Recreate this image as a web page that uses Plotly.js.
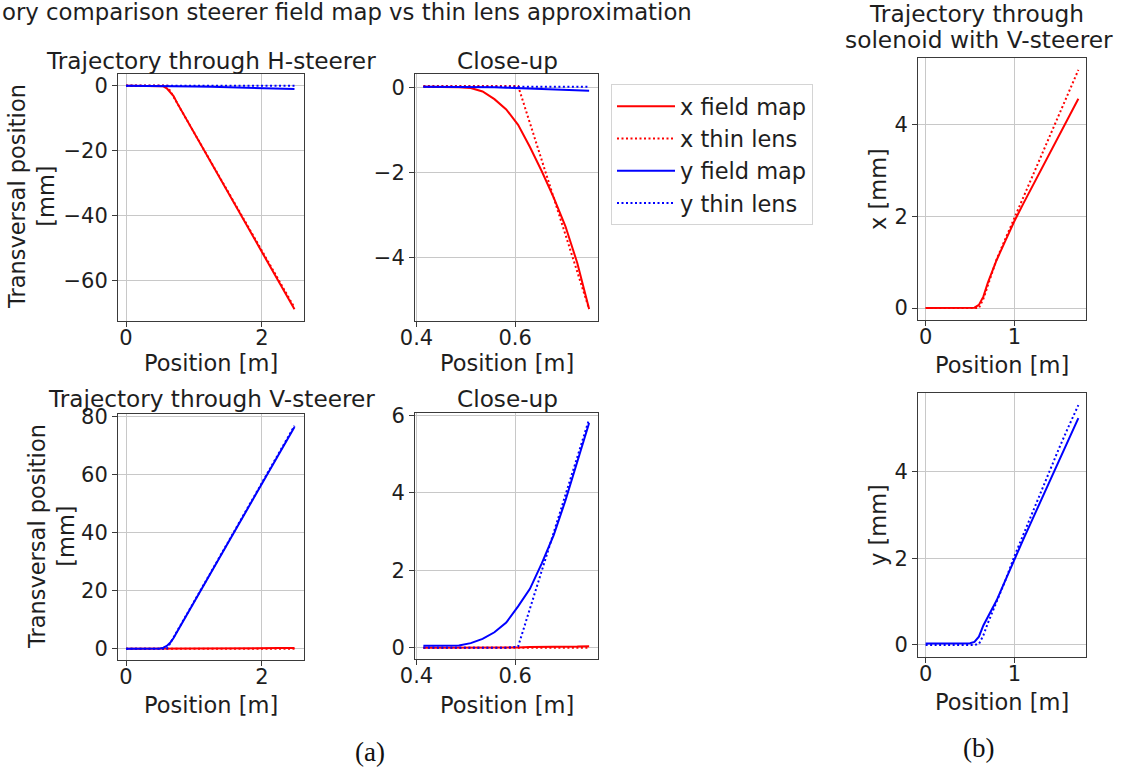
<!DOCTYPE html>
<html><head><meta charset="utf-8">
<script src="https://cdn.plot.ly/plotly-3.0.1.min.js"></script>
<style>html,body{margin:0;padding:0;background:#fff}#plot{width:1127px;height:772px}</style>
</head><body><div id="plot"></div>
<script>
// ---------- data ----------
// full-range position grid [m] (steerer panels)
const xFull = [0, 0.25, 0.5, 0.55, 0.6, 0.65, 0.7, 0.75, 1.0, 1.25, 1.5, 1.75, 2.0, 2.25, 2.48];
// H-steerer, full range [mm]
const hFieldX = [0, 0, -0.02, -0.2, -0.8, -1.95, -3.15, -5.2, -14.4, -23.6, -32.8, -41.9, -51.1, -60.3, -68.7];
const hThinX  = [0.03, 0.03, 0.03, 0.03, 0.03, -1.6, -3.4, -5.2, -14.3, -23.4, -32.5, -41.6, -50.7, -59.8, -68.2];
const hFieldY = [0.02, 0.02, 0.02, 0.01, 0, -0.03, -0.05, -0.08, -0.21, -0.35, -0.48, -0.61, -0.74, -0.87, -1.0];
const hThinY  = [0.02, 0.02, 0.02, 0.02, 0.02, 0.02, 0.02, 0.02, 0.02, 0.02, 0.02, 0.02, 0.02, 0.02, 0.02];
// V-steerer, full range [mm]
const vFieldX = [0, 0, 0, 0, 0, 0.01, 0.02, 0.03, 0.06, 0.09, 0.13, 0.16, 0.2, 0.24, 0.28];
const vThinX  = [0, 0, 0, 0, 0, 0, 0, 0, 0, 0, 0, 0, 0, 0, 0];
const vFieldY = [0.05, 0.05, 0.12, 0.37, 1.0, 2.1, 3.7, 5.8, 16.0, 26.2, 36.4, 46.6, 56.8, 67.0, 76.4];
const vThinY  = [0, 0, 0, 0, 0.03, 1.9, 3.9, 5.95, 16.2, 26.4, 36.7, 46.9, 57.1, 67.4, 76.8];

// close-up position grid [m]
const xClose = [0.414, 0.438, 0.462, 0.486, 0.510, 0.534, 0.558, 0.582, 0.606, 0.630, 0.654, 0.678, 0.702, 0.726, 0.750];
// H-steerer close-up [mm]
const hcFieldX = [0.01, 0.01, 0.01, 0.0, -0.02, -0.10, -0.28, -0.52, -0.88, -1.40, -1.97, -2.58, -3.26, -4.12, -5.20];
const hcThinX  = [0.03, 0.03, 0.03, 0.03, 0.03, 0.03, 0.03, 0.03, 0.03, -0.84, -1.71, -2.58, -3.46, -4.33, -5.20];
const hcFieldY = [0.01, 0.01, 0.01, 0.01, 0.01, 0.0, 0.0, -0.01, -0.02, -0.03, -0.04, -0.05, -0.06, -0.07, -0.08];
const hcThinY  = [0.01, 0.01, 0.01, 0.01, 0.01, 0.01, 0.01, 0.01, 0.01, 0.01, 0.01, 0.01, 0.01, 0.01, 0.01];
// V-steerer close-up [mm]
const vcFieldX = [0, 0, 0, 0, 0, 0, 0, 0, 0.01, 0.02, 0.02, 0.03, 0.03, 0.03, 0.04];
const vcThinX  = [0, 0, 0, 0, 0, 0, 0, 0, 0, 0, 0, 0, 0, 0, 0];
const vcFieldY = [0.05, 0.05, 0.05, 0.06, 0.12, 0.23, 0.40, 0.65, 1.07, 1.52, 2.18, 2.90, 3.80, 4.80, 5.80];
const vcThinY  = [0, 0, 0, 0, 0, 0, 0, 0, 0.03, 1.01, 2.0, 2.98, 3.95, 4.92, 5.90];

// solenoid with V-steerer
const xSol = [0, 0.1, 0.2, 0.3, 0.4, 0.5, 0.55, 0.6, 0.65, 0.7, 0.75, 0.8, 0.9, 1.0, 1.1, 1.2, 1.3, 1.4, 1.5, 1.6, 1.72];
const sFieldX = [0, 0, 0, 0, 0, 0, 0.01, 0.07, 0.25, 0.55, 0.82, 1.05, 1.48, 1.9, 2.28, 2.65, 3.03, 3.4, 3.78, 4.15, 4.57];
const sThinX  = [0, 0, 0, 0, 0, 0, 0, 0, 0.2, 0.5, 0.78, 1.07, 1.52, 1.97, 2.42, 2.87, 3.31, 3.76, 4.21, 4.66, 5.2];
const sFieldY = [0.03, 0.03, 0.03, 0.03, 0.03, 0.04, 0.07, 0.19, 0.45, 0.65, 0.83, 1.03, 1.5, 1.98, 2.44, 2.89, 3.35, 3.8, 4.26, 4.71, 5.24];
const sThinY  = [0, 0, 0, 0, 0, 0, 0, 0.02, 0.22, 0.5, 0.75, 1.0, 1.5, 2.05, 2.55, 3.05, 3.55, 4.05, 4.53, 5.0, 5.54];

// tick values
const ticksFullX = [0, 2];
const ticksCloseX = [0.4, 0.6];
const ticksSolX = [0, 1];
const ticksA1Y = [-60, -40, -20, 0];
const ticksA2Y = [-4, -2, 0];
const ticksA3Y = [0, 20, 40, 60, 80];
const ticksA4Y = [0, 2, 4, 6];
const ticksSolY = [0, 2, 4];

const seriesNames = ['x field map', 'x thin lens', 'y field map', 'y thin lens'];

// ---------- layout helpers ----------
const W = 1127, H = 772;
const FONT = 'DejaVu Sans, sans-serif';
const TXT = '#1e1e1e';
const RED = '#ff0000', BLUE = '#0000ff';

function xa(px, range, tickvals, anchor) {
  return base({domain: [px[0] / W, px[1] / W], range, tickvals, anchor, ticklabelstandoff: -7});
}
function ya(px, range, tickvals, anchor) {
  return base({domain: [1 - px[1] / H, 1 - px[0] / H], range, tickvals, anchor});
}
function base(o) {
  return Object.assign({
    tickmode: 'array', showgrid: true, gridcolor: '#c8c8c8', gridwidth: 1,
    zeroline: false, showline: true, mirror: true, linecolor: '#3a3a3a', linewidth: 1,
    ticks: 'outside', ticklen: 5, tickwidth: 1, tickcolor: '#3a3a3a',
    tickfont: {family: FONT, size: 21, color: TXT}, fixedrange: true
  }, o);
}

function tr(x, y, color, dotted, axx, axy, idx, legend) {
  return {
    x, y, type: 'scatter', mode: 'lines', xaxis: axx, yaxis: axy,
    name: seriesNames[idx], legendgroup: 'g' + idx, showlegend: !!legend,
    line: {color, width: 2, dash: dotted ? '2px,2.5px' : 'solid'},
    hoverinfo: 'skip'
  };
}

const data = [
  // A1
  tr(xFull, hFieldX, RED, false, 'x', 'y', 0, true),
  tr(xFull, hThinX, RED, true, 'x', 'y', 1, true),
  tr(xFull, hFieldY, BLUE, false, 'x', 'y', 2, true),
  tr(xFull, hThinY, BLUE, true, 'x', 'y', 3, true),
  // A2
  tr(xClose, hcFieldX, RED, false, 'x2', 'y2', 0),
  tr(xClose, hcThinX, RED, true, 'x2', 'y2', 1),
  tr(xClose, hcFieldY, BLUE, false, 'x2', 'y2', 2),
  tr(xClose, hcThinY, BLUE, true, 'x2', 'y2', 3),
  // A3
  tr(xFull, vFieldX, RED, false, 'x3', 'y3', 0),
  tr(xFull, vThinX, RED, true, 'x3', 'y3', 1),
  tr(xFull, vFieldY, BLUE, false, 'x3', 'y3', 2),
  tr(xFull, vThinY, BLUE, true, 'x3', 'y3', 3),
  // A4
  tr(xClose, vcFieldX, RED, false, 'x4', 'y4', 0),
  tr(xClose, vcThinX, RED, true, 'x4', 'y4', 1),
  tr(xClose, vcFieldY, BLUE, false, 'x4', 'y4', 2),
  tr(xClose, vcThinY, BLUE, true, 'x4', 'y4', 3),
  // B1
  tr(xSol, sFieldX, RED, false, 'x5', 'y5', 0),
  tr(xSol, sThinX, RED, true, 'x5', 'y5', 1),
  // B2
  tr(xSol, sFieldY, BLUE, false, 'x6', 'y6', 2),
  tr(xSol, sThinY, BLUE, true, 'x6', 'y6', 3)
];

function ann(text, px, py, size, opts) {
  return Object.assign({
    text, x: px / W, y: 1 - py / H, xref: 'paper', yref: 'paper',
    xanchor: 'center', yanchor: 'middle', showarrow: false,
    font: {family: FONT, size: size || 22.5, color: TXT}
  }, opts || {});
}
const SERIF = {family: 'Liberation Serif, DejaVu Serif, serif', size: 27, color: '#111'};

const annotations = [
  ann('ory comparison steerer field map vs thin lens approximation', 0, 12, 22.8, {xanchor: 'left'}),
  ann('Trajectory through H-steerer', 211, 60, 23.2),
  ann('Close-up', 507, 60, 23.2),
  ann('Trajectory through V-steerer', 211, 399, 23.2),
  ann('Close-up', 507, 399, 23.2),
  ann('Trajectory through', 976, 14, 23.3),
  ann('solenoid with V-steerer', 979, 40, 23.3),
  ann('Position [m]', 211, 363),
  ann('Position [m]', 507, 363),
  ann('Position [m]', 211, 705),
  ann('Position [m]', 507, 705),
  ann('Position [m]', 1002, 365),
  ann('Position [m]', 1002, 702),
  ann('Transversal position<br>[mm]', 31, 197, 22.5, {textangle: -90}),
  ann('Transversal position<br>[mm]', 51, 537, 22.5, {textangle: -90}),
  ann('x [mm]', 878, 189, 22.5, {textangle: -90}),
  ann('y [mm]', 878, 525, 22.5, {textangle: -90}),
  ann('(a)', 370, 752, 27, {font: SERIF}),
  ann('(b)', 978, 748, 27, {font: SERIF})
];

const layout = {
  width: W, height: H,
  margin: {l: 0, r: 0, t: 0, b: 0},
  paper_bgcolor: '#ffffff', plot_bgcolor: '#ffffff',
  showlegend: true,
  legend: {
    x: 611 / W, y: 1 - 84 / H, xanchor: 'left', yanchor: 'top',
    bgcolor: '#ffffff', bordercolor: '#d4d4d4', borderwidth: 1,
    font: {family: FONT, size: 22.5, color: TXT},
    traceorder: 'grouped', tracegroupgap: 0, itemwidth: 58
  },
  xaxis:  xa([118, 304], [-0.118, 2.62], ticksFullX, 'y'),
  yaxis:  ya([74, 321], [-72.3, 3.6], ticksA1Y, 'x'),
  xaxis2: xa([415, 598], [0.397, 0.768], ticksCloseX, 'y2'),
  yaxis2: ya([74, 321], [-5.48, 0.31], ticksA2Y, 'x2'),
  xaxis3: xa([118, 304], [-0.118, 2.62], ticksFullX, 'y3'),
  yaxis3: ya([414, 660], [-3.85, 80.85], ticksA3Y, 'x3'),
  xaxis4: xa([415, 598], [0.397, 0.768], ticksCloseX, 'y4'),
  yaxis4: ya([413, 659], [-0.29, 6.06], ticksA4Y, 'x4'),
  xaxis5: xa([918, 1086], [-0.086, 1.806], ticksSolX, 'y5'),
  yaxis5: ya([58, 320], [-0.26, 5.46], ticksSolY, 'x5'),
  xaxis6: xa([918, 1086], [-0.086, 1.806], ticksSolX, 'y6'),
  yaxis6: ya([393, 657], [-0.28, 5.82], ticksSolY, 'x6'),
  annotations
};

Plotly.newPlot('plot', data, layout, {displayModeBar: false, staticPlot: true});
</script></body></html>
